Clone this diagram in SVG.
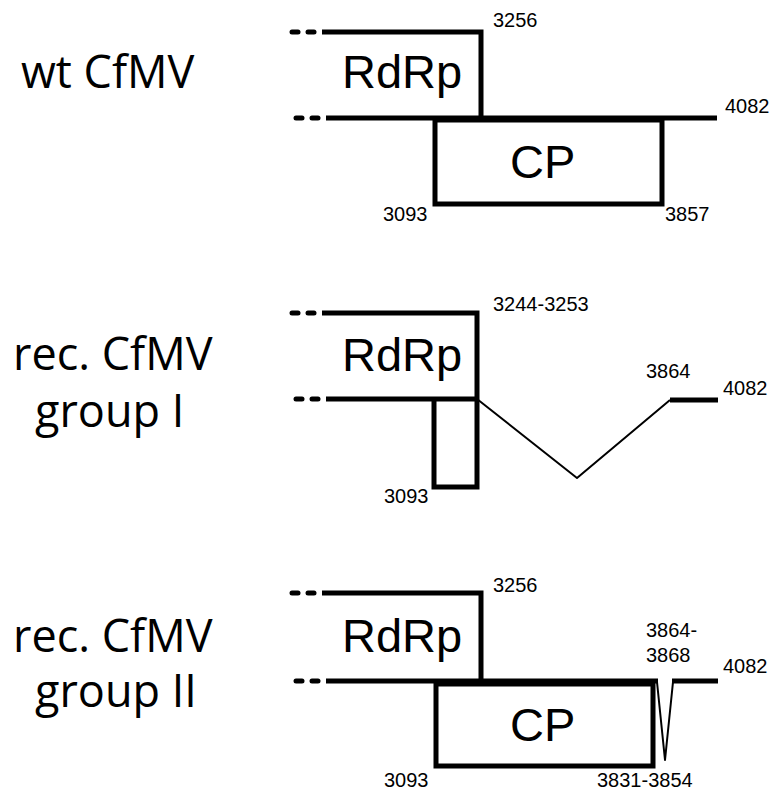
<svg xmlns="http://www.w3.org/2000/svg" width="772" height="791" viewBox="0 0 772 791">
<style>
.thick{fill:none;stroke:#000;stroke-width:5;stroke-linejoin:miter}
.dash{stroke:#000;stroke-width:5;stroke-linecap:round}
.thin{fill:none;stroke:#000;stroke-width:2;stroke-linejoin:round}
.name{font-family:"Open Sans","DejaVu Sans",sans-serif;font-size:45px;fill:#000}
.prot{font-family:"Liberation Sans",Arial,sans-serif;font-size:47px;fill:#000}
.num{font-family:"Liberation Sans",Arial,sans-serif;font-size:20px;fill:#000}
</style>
<rect width="772" height="791" fill="#fff"/>

<g id="panel-wt">
  <text class="name" x="21" y="88">wt CfMV</text>
  <g id="wt-rdrp">
    <line class="dash" x1="292" y1="32" x2="298" y2="32"/>
    <line class="dash" x1="308" y1="32" x2="314" y2="32"/>
    <polyline class="thick" points="322,32 481,32 481,118"/>
    <text class="prot" x="342" y="88">RdRp</text>
  </g>
  <g id="wt-genome">
    <line class="dash" x1="296" y1="118" x2="302" y2="118"/>
    <line class="dash" x1="312" y1="118" x2="318" y2="118"/>
    <line class="thick" x1="326" y1="118" x2="717" y2="118"/>
  </g>
  <g id="wt-cp">
    <rect class="thick" x="435" y="120" width="227" height="84"/>
    <text class="prot" x="510" y="178">CP</text>
  </g>
  <text class="num" x="493" y="27">3256</text>
  <text class="num" x="725" y="113">4082</text>
  <text class="num" x="383" y="221">3093</text>
  <text class="num" x="665" y="221">3857</text>
</g>

<g id="panel-group1">
  <text class="name" x="13" y="370">rec. CfMV</text>
  <text class="name" x="35" y="427">group I</text>
  <g id="g1-rdrp">
    <line class="dash" x1="292" y1="313" x2="298" y2="313"/>
    <line class="dash" x1="308" y1="313" x2="314" y2="313"/>
    <polyline class="thick" points="322,313 477,313 477,399"/>
    <text class="prot" x="342" y="371">RdRp</text>
  </g>
  <g id="g1-genome">
    <line class="dash" x1="296" y1="399" x2="302" y2="399"/>
    <line class="dash" x1="312" y1="399" x2="318" y2="399"/>
    <line class="thick" x1="326" y1="399" x2="477" y2="399"/>
    <polyline class="thin" points="477,399 577,478 670,400"/>
    <line class="thick" x1="670" y1="400" x2="718" y2="400"/>
  </g>
  <g id="g1-cp">
    <polyline class="thick" points="434,399 434,487 477,487 477,399"/>
  </g>
  <text class="num" x="493" y="311">3244-3253</text>
  <text class="num" x="646" y="378">3864</text>
  <text class="num" x="723" y="395">4082</text>
  <text class="num" x="384" y="503">3093</text>
</g>

<g id="panel-group2">
  <text class="name" x="13" y="652">rec. CfMV</text>
  <text class="name" x="35" y="707">group II</text>
  <g id="g2-rdrp">
    <line class="dash" x1="292" y1="593" x2="298" y2="593"/>
    <line class="dash" x1="308" y1="593" x2="314" y2="593"/>
    <polyline class="thick" points="322,593 481,593 481,681"/>
    <text class="prot" x="342" y="652">RdRp</text>
  </g>
  <g id="g2-genome">
    <line class="dash" x1="296" y1="681" x2="302" y2="681"/>
    <line class="dash" x1="312" y1="681" x2="318" y2="681"/>
    <line class="thick" x1="326" y1="681" x2="658" y2="681"/>
    <polyline class="thin" points="657,682 665,760 673,682"/>
    <line class="thick" x1="672" y1="681" x2="718" y2="681"/>
  </g>
  <g id="g2-cp">
    <rect class="thick" x="436" y="684" width="217" height="82"/>
    <text class="prot" x="510" y="741">CP</text>
  </g>
  <text class="num" x="493" y="592">3256</text>
  <text class="num" x="646" y="637">3864-</text>
  <text class="num" x="646" y="662">3868</text>
  <text class="num" x="723" y="673">4082</text>
  <text class="num" x="384" y="787">3093</text>
  <text class="num" x="597" y="787">3831-3854</text>
</g>
</svg>
